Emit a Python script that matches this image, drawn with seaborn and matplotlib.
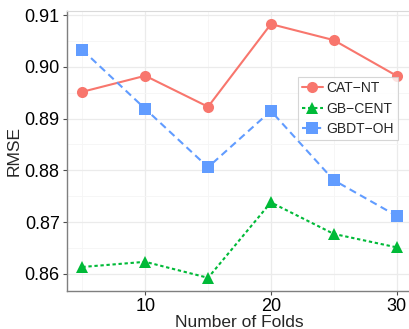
import pandas as pd
import seaborn as sns
import matplotlib.pyplot as plt
from matplotlib.ticker import MultipleLocator

# data
folds = [5, 10, 15, 20, 25, 30]
cat_nt = [0.8952, 0.8983, 0.8923, 0.9083, 0.9052, 0.8983]
gb_cent = [0.8613, 0.8623, 0.8592, 0.8738, 0.8677, 0.8651]
gbdt_oh = [0.9033, 0.8919, 0.8806, 0.8915, 0.8781, 0.8712]
methods = ['CAT\u2212NT', 'GB\u2212CENT', 'GBDT\u2212OH']

df = pd.DataFrame({
    'folds': folds * 3,
    'rmse': cat_nt + gb_cent + gbdt_oh,
    'method': [m for m in methods for _ in folds],
})

sns.set_style('white')
plt.rcParams['font.family'] = ['Liberation Sans', 'DejaVu Sans']

fig = plt.figure(figsize=(4.09, 3.29), dpi=100)
ax = fig.add_axes([0.163, 0.1155, 0.845, 0.851])

palette = {methods[0]: '#F8766D', methods[1]: '#00BA38', methods[2]: '#619CFF'}
sns.lineplot(data=df, x='folds', y='rmse', hue='method', style='method',
             palette=palette, markers=['o', '^', 's'],
             dashes=['', (1.6, 1.3), (3.5, 2.2)], markersize=8,
             markeredgewidth=0, linewidth=1.5, ax=ax)

ax.set_xlim(3.75, 31.25)
ax.set_ylim(0.85665, 0.91083)
ax.xaxis.set_major_locator(MultipleLocator(10))
ax.xaxis.set_minor_locator(MultipleLocator(5))
ax.yaxis.set_major_locator(MultipleLocator(0.01))
ax.yaxis.set_minor_locator(MultipleLocator(0.005))
ax.yaxis.set_major_formatter(plt.FormatStrFormatter('%.2f'))
ax.grid(which='major', color='#EBEBEB', linewidth=0.9)
ax.grid(which='minor', color='#F5F5F5', linewidth=0.6)
ax.set_axisbelow(True)

for side in ['top', 'right']:
    ax.spines[side].set_color('#D9D9D9')
    ax.spines[side].set_linewidth(0.8)
for side in ['left', 'bottom']:
    ax.spines[side].set_color('#7F7F7F')
    ax.spines[side].set_linewidth(1.0)

ax.tick_params(axis='both', which='major', labelsize=13, colors='#4D4D4D',
               labelcolor='black', length=3, width=0.8, pad=2, left=True, bottom=True)
ax.tick_params(which='minor', length=0)
ax.set_xlabel('Number of Folds', fontsize=12.5, labelpad=0)
ax.set_ylabel('RMSE', fontsize=12.5, labelpad=2)

leg = ax.legend(title=None, loc='upper left', bbox_to_anchor=(0.669, 0.764),
                fontsize=10, frameon=True, fancybox=False, handlelength=1.5,
                handletextpad=0.25, borderpad=0.3, labelspacing=0.45,
                borderaxespad=0)
leg.get_frame().set_edgecolor('#CCCCCC')
leg.get_frame().set_linewidth(0.8)

plt.savefig('out.png', dpi=100)
